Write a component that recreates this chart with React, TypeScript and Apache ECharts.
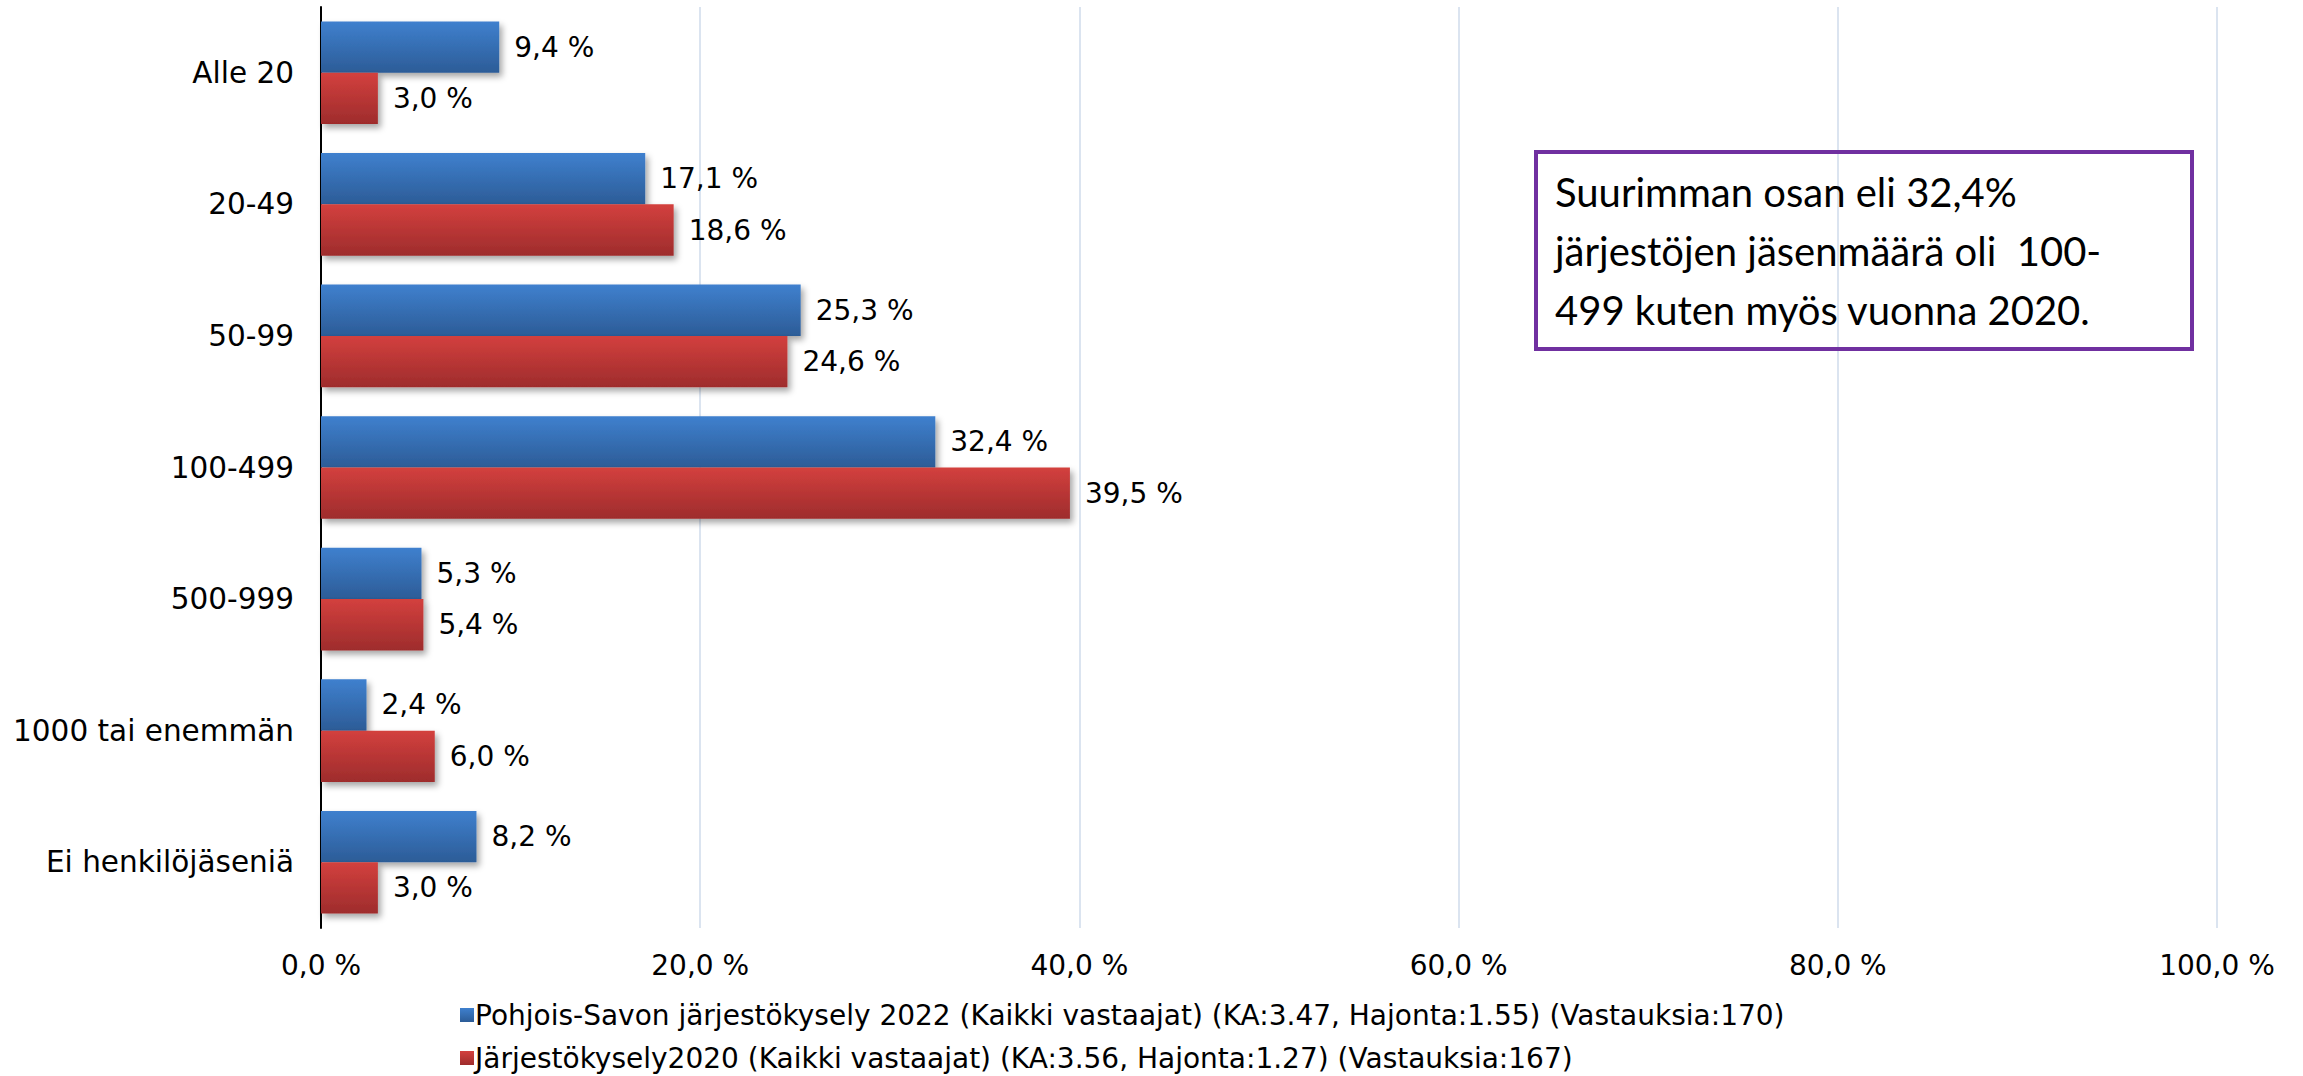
import React, { useEffect, useRef } from "react";
import * as echarts from "echarts";

const categories = ["Alle 20", "20-49", "50-99", "100-499", "500-999", "1000 tai enemmän", "Ei henkilöjäseniä"];
const series2022 = [9.4, 17.1, 25.3, 32.4, 5.3, 2.4, 8.2];
const series2020 = [3.0, 18.6, 24.6, 39.5, 5.4, 6.0, 3.0];
const seriesNames = [
  "Pohjois-Savon järjestökysely 2022 (Kaikki vastaajat) (KA:3.47, Hajonta:1.55) (Vastauksia:170)",
  "Järjestökysely2020 (Kaikki vastaajat) (KA:3.56, Hajonta:1.27) (Vastauksia:167)",
];
const noteText = "Suurimman osan eli 32,4%\njärjestöjen jäsenmäärä oli  100-\n499 kuten myös vuonna 2020.";

const FONT = "DejaVu Sans";
const fmt = (v: number) => v.toFixed(1).replace(".", ",") + " %";

export default function App() {
  const ref = useRef<HTMLDivElement>(null);
  useEffect(() => {
    if (!ref.current) return;
    const chart = echarts.init(ref.current, undefined, { renderer: "svg" });
    const grad = (a: string, b: string) =>
      new echarts.graphic.LinearGradient(0, 0, 0, 1, [
        { offset: 0, color: a },
        { offset: 1, color: b },
      ]);
    const barCommon = {
      type: "bar",
      barGap: "0%",
      barCategoryGap: "22%",
      label: {
        show: true,
        position: "right",
        distance: 15,
        color: "#000",
        fontSize: 28,
        fontFamily: FONT,
        formatter: (p: any) => fmt(p.value),
      },
    };
    const legendCommon = {
      orient: "horizontal",
      left: 460,
      padding: 0,
      itemWidth: 14,
      itemHeight: 14,
      icon: "rect",
      textStyle: { color: "#000", fontSize: 28, fontFamily: FONT, padding: [0, 0, 0, -4] },
    };
    chart.setOption({
      animation: false,
      backgroundColor: "#fff",
      grid: { left: 321, right: 86, top: 7, bottom: 148, containLabel: false },
      xAxis: {
        type: "value",
        min: 0,
        max: 100,
        interval: 20,
        axisLine: { show: false },
        axisTick: { show: false },
        splitLine: { show: true, lineStyle: { color: "#dbe4f0", width: 2 } },
        axisLabel: {
          color: "#000",
          fontSize: 28,
          fontFamily: FONT,
          margin: 23,
          formatter: (v: number) => fmt(v),
          showMinLabel: true,
          showMaxLabel: true,
        },
      },
      yAxis: {
        type: "category",
        inverse: true,
        data: categories,
        axisLine: { show: true, onZero: false, lineStyle: { color: "#000", width: 2 } },
        axisTick: { show: false },
        axisLabel: { color: "#000", fontSize: 29.5, fontFamily: FONT, margin: 27 },
      },
      legend: [
        { ...legendCommon, top: 1001, data: [seriesNames[0]] },
        { ...legendCommon, top: 1044, data: [seriesNames[1]] },
      ],
      series: [
        {
          ...barCommon,
          name: seriesNames[0],
          data: series2022,
          itemStyle: {
            color: grad("#3f80ce", "#2c5c97"),
            shadowBlur: 6,
            shadowOffsetX: 3,
            shadowOffsetY: 4,
            shadowColor: "rgba(0,0,0,0.35)",
          },
        },
        {
          ...barCommon,
          name: seriesNames[1],
          data: series2020,
          itemStyle: {
            color: grad("#d3403e", "#9e2c2c"),
            shadowBlur: 6,
            shadowOffsetX: 3,
            shadowOffsetY: 4,
            shadowColor: "rgba(0,0,0,0.35)",
          },
        },
      ],
      graphic: [
        {
          type: "rect",
          left: 1534,
          top: 150,
          shape: { width: 656, height: 197 },
          style: { fill: "transparent", stroke: "#7030a0", lineWidth: 4 },
          z: 10,
        },
        {
          type: "text",
          left: 1555,
          top: 162,
          style: {
            text: noteText,
            font: "40px Lato",
            fill: "#000",
            lineHeight: 59,
          },
          z: 10,
        },
      ],
    });
    return () => chart.dispose();
  }, []);
  return (
    <div
      ref={ref}
      style={{ position: "fixed", left: 0, top: 0, width: 2303, height: 1076, background: "#fff" }}
    />
  );
}
